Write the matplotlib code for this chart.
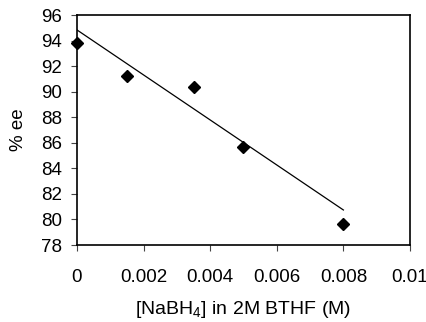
import matplotlib
matplotlib.use("Agg")
import matplotlib.pyplot as plt

conc = [0.0, 0.0015, 0.0035, 0.005, 0.008]
ee = [93.8, 91.2, 90.4, 85.7, 79.65]
trend_x = [0.0, 0.008]
trend_y = [94.83, 80.74]

plt.rcParams['font.family'] = ['Liberation Sans', 'DejaVu Sans']
plt.rcParams['mathtext.fontset'] = 'custom'
plt.rcParams['mathtext.rm'] = 'Liberation Sans'

fig = plt.figure(figsize=(4.27, 3.22), dpi=100)
ax = fig.add_axes([77/427, 1-245/322, (410-77)/427, (245-15)/322])
ax.plot(trend_x, trend_y, color='black', lw=0.9)
ax.plot(conc, ee, 'D', color='black', ms=6.5, clip_on=False)
ax.set_xlim(0, 0.01)
ax.set_ylim(78, 96)
ax.set_xticks([0, 0.002, 0.004, 0.006, 0.008, 0.01])
ax.set_xticklabels(['0', '0.002', '0.004', '0.006', '0.008', '0.01'])
ax.set_yticks(range(78, 97, 2))
for s in ax.spines.values():
    s.set_linewidth(1.2)
ax.tick_params(axis='both', direction='out', length=4, width=0.8, labelsize=13.5, color='#444444')
ax.tick_params(axis='x', pad=13)
ax.tick_params(axis='y', pad=7)
ax.set_ylabel('% ee', fontsize=13.5, labelpad=10)
ax.set_xlabel(r'[NaBH$_\mathrm{4}$] in 2M BTHF (M)', fontsize=14, labelpad=10)
fig.savefig('out.png', dpi=100)
